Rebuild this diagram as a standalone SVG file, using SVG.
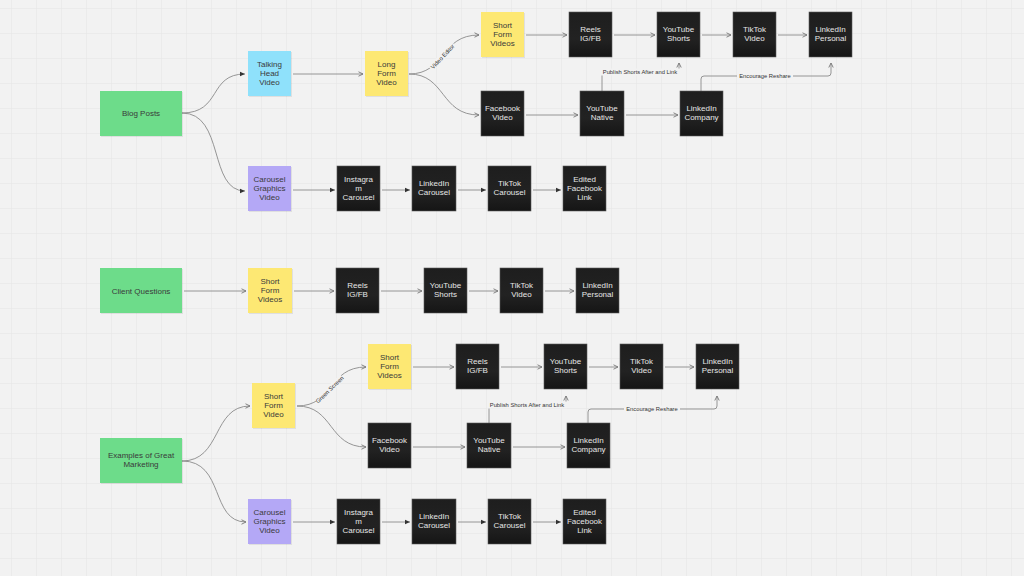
<svg xmlns="http://www.w3.org/2000/svg" width="1024" height="576" viewBox="0 0 1024 576">
<defs>
<pattern id="grid" x="11" y="8" width="25" height="25" patternUnits="userSpaceOnUse">
<path d="M0,0 H25 M0,0 V25" stroke="#e4e4e4" stroke-width="1" fill="none"/>
</pattern>
<linearGradient id="dark" x1="0" y1="0" x2="0" y2="1">
<stop offset="0" stop-color="#1e1e1e"/>
<stop offset="0.6" stop-color="#222"/>
<stop offset="1" stop-color="#151515"/>
</linearGradient>
<marker id="open" viewBox="0 0 6 6" refX="5.5" refY="3" markerWidth="6" markerHeight="6" markerUnits="userSpaceOnUse" orient="auto">
<path d="M1,0.8 L5.5,3 L1,5.2" fill="none" stroke="#777" stroke-width="0.9"/>
</marker>
<marker id="fill" viewBox="0 0 6 6" refX="5.5" refY="3" markerWidth="6" markerHeight="6" markerUnits="userSpaceOnUse" orient="auto">
<path d="M0.5,0.8 L5.5,3 L0.5,5.2 Z" fill="#333"/>
</marker>
</defs>
<style>
.sh{fill:#000;opacity:0.08}
.g{fill:#6ddc8a}
.bl{fill:#8fe1fb}
.y{fill:#fde873}
.p{fill:#b4a8f6}
.k{fill:url(#dark);stroke:#5a5a5a;stroke-width:0.6}
text{font-family:"Liberation Sans",Arial,sans-serif;font-size:8px;text-anchor:middle}
.tl{fill:#3a3a3a}
.tw{fill:#e6e6e6}
.c{fill:none;stroke:#8a8a8a;stroke-width:0.9}
.lbl{font-size:5.8px;fill:#333}
</style>
<rect width="1024" height="576" fill="#f2f2f2"/>
<rect width="1024" height="576" fill="url(#grid)"/>

<g id="connectors">
<path class="c" d="M182,113 C222,113 208,74 245,74" marker-end="url(#fill)"/>
<path class="c" d="M182,113 C225,113 208,191 245,191" marker-end="url(#fill)"/>
<path class="c" d="M293,74 H363" marker-end="url(#open)"/>
<path class="c" d="M409,74 C446,74 440,35 479,35" marker-end="url(#open)"/>
<path class="c" d="M409,74 C446,74 440,115 479,115" marker-end="url(#open)"/>
<path class="c" d="M526,35 H567" marker-end="url(#open)"/>
<path class="c" d="M614,35 H655" marker-end="url(#open)"/>
<path class="c" d="M702,35 H731" marker-end="url(#open)"/>
<path class="c" d="M778,35 H807" marker-end="url(#open)"/>
<path class="c" d="M526,115 H578" marker-end="url(#open)"/>
<path class="c" d="M626,115 H678" marker-end="url(#open)"/>
<path class="c" d="M293,190 H335" marker-end="url(#fill)"/>
<path class="c" d="M382,190 H410" marker-end="url(#fill)"/>
<path class="c" d="M458,190 H486" marker-end="url(#fill)"/>
<path class="c" d="M533,190 H561" marker-end="url(#fill)"/>
<path class="c" d="M602,91 V72 H679 V63" marker-end="url(#open)"/>
<path class="c" d="M701,91 V79 Q701,76 704,76 H828 Q831,76 831,73 V63" marker-end="url(#open)"/>
<path class="c" d="M184,291 H246" marker-end="url(#open)"/>
<path class="c" d="M294,291 H334" marker-end="url(#open)"/>
<path class="c" d="M381,291 H422" marker-end="url(#open)"/>
<path class="c" d="M469,291 H498" marker-end="url(#open)"/>
<path class="c" d="M545,291 H574" marker-end="url(#open)"/>
<path class="c" d="M182,461 C222,461 212,406 250,406" marker-end="url(#open)"/>
<path class="c" d="M182,461 C225,461 210,522 246,522" marker-end="url(#open)"/>
<path class="c" d="M297,406 C334,406 328,367 366,367" marker-end="url(#open)"/>
<path class="c" d="M297,406 C334,406 328,447 366,447" marker-end="url(#open)"/>
<path class="c" d="M413,367 H454" marker-end="url(#open)"/>
<path class="c" d="M501,367 H542" marker-end="url(#open)"/>
<path class="c" d="M589,367 H618" marker-end="url(#open)"/>
<path class="c" d="M665,367 H694" marker-end="url(#open)"/>
<path class="c" d="M413,447 H465" marker-end="url(#open)"/>
<path class="c" d="M513,447 H565" marker-end="url(#open)"/>
<path class="c" d="M293,522 H335" marker-end="url(#fill)"/>
<path class="c" d="M382,522 H410" marker-end="url(#fill)"/>
<path class="c" d="M458,522 H486" marker-end="url(#fill)"/>
<path class="c" d="M533,522 H561" marker-end="url(#fill)"/>
<path class="c" d="M489,423 V405 H566 V396" marker-end="url(#open)"/>
<path class="c" d="M588,423 V412 Q588,409 591,409 H714 Q717,409 717,406 V396" marker-end="url(#open)"/>
<rect x="600" y="68.5" width="80" height="7" fill="#f2f2f2"/>
<text class="lbl" x="640" y="74">Publish Shorts After and Link</text>
<rect x="737" y="72.5" width="56" height="7" fill="#f2f2f2"/>
<text class="lbl" x="765" y="78">Encourage Reshare</text>
<rect x="487" y="401.5" width="80" height="7" fill="#f2f2f2"/>
<text class="lbl" x="527" y="407">Publish Shorts After and Link</text>
<rect x="624" y="405.5" width="56" height="7" fill="#f2f2f2"/>
<text class="lbl" x="652" y="411">Encourage Reshare</text>
<g transform="translate(443,57) rotate(-47)">
<rect x="-17" y="-4" width="34" height="6.5" fill="#f2f2f2"/>
<text class="lbl" x="0" y="1.5">Video Editor</text>
</g>
<g transform="translate(330,390) rotate(-44)">
<rect x="-18" y="-4" width="36" height="6.5" fill="#f2f2f2"/>
<text class="lbl" x="0" y="1.5">Green Screen</text>
</g>
</g>

<g id="blog-posts"><rect class="sh" x="101" y="92" width="82" height="45"/><rect class="g" x="100" y="91" width="82" height="45"/><text class="tl" x="141" y="116">Blog Posts</text></g>
<g id="talking-head"><rect class="sh" x="249" y="52" width="43" height="45"/><rect class="bl" x="248" y="51" width="43" height="45"/><text class="tl" y="66.8"><tspan x="269.5">Talking</tspan><tspan x="269.5" dy="9">Head</tspan><tspan x="269.5" dy="9">Video</tspan></text></g>
<g id="long-form"><rect class="sh" x="366" y="52" width="43" height="45"/><rect class="y" x="365" y="51" width="43" height="45"/><text class="tl" y="66.8"><tspan x="386.5">Long</tspan><tspan x="386.5" dy="9">Form</tspan><tspan x="386.5" dy="9">Video</tspan></text></g>
<g id="short-form-videos-1"><rect class="sh" x="482" y="13" width="43" height="45"/><rect class="y" x="481" y="12" width="43" height="45"/><text class="tl" y="27.8"><tspan x="502.5">Short</tspan><tspan x="502.5" dy="9">Form</tspan><tspan x="502.5" dy="9">Videos</tspan></text></g>
<g id="reels-1"><rect class="k" x="569" y="12" width="43" height="45"/><text class="tw" y="32.3"><tspan x="590.5">Reels</tspan><tspan x="590.5" dy="9">IG/FB</tspan></text></g>
<g id="yt-shorts-1"><rect class="k" x="657" y="12" width="43" height="45"/><text class="tw" y="32.3"><tspan x="678.5">YouTube</tspan><tspan x="678.5" dy="9">Shorts</tspan></text></g>
<g id="tiktok-video-1"><rect class="k" x="733" y="12" width="43" height="45"/><text class="tw" y="32.3"><tspan x="754.5">TikTok</tspan><tspan x="754.5" dy="9">Video</tspan></text></g>
<g id="li-personal-1"><rect class="k" x="809" y="12" width="43" height="45"/><text class="tw" y="32.3"><tspan x="830.5">LinkedIn</tspan><tspan x="830.5" dy="9">Personal</tspan></text></g>
<g id="facebook-video-1"><rect class="k" x="481" y="91" width="43" height="45"/><text class="tw" y="111.3"><tspan x="502.5">Facebook</tspan><tspan x="502.5" dy="9">Video</tspan></text></g>
<g id="yt-native-1"><rect class="k" x="580" y="91" width="44" height="45"/><text class="tw" y="111.3"><tspan x="602">YouTube</tspan><tspan x="602" dy="9">Native</tspan></text></g>
<g id="li-company-1"><rect class="k" x="680" y="91" width="43" height="45"/><text class="tw" y="111.3"><tspan x="701.5">LinkedIn</tspan><tspan x="701.5" dy="9">Company</tspan></text></g>
<g id="carousel-1"><rect class="sh" x="249" y="167" width="43" height="45"/><rect class="p" x="248" y="166" width="43" height="45"/><text class="tl" y="181.8"><tspan x="269.5">Carousel</tspan><tspan x="269.5" dy="9">Graphics</tspan><tspan x="269.5" dy="9">Video</tspan></text></g>
<g id="ig-carousel-1"><rect class="k" x="337" y="166" width="43" height="45"/><text class="tw" y="181.8"><tspan x="358.5">Instagra</tspan><tspan x="358.5" dy="9">m</tspan><tspan x="358.5" dy="9">Carousel</tspan></text></g>
<g id="li-carousel-1"><rect class="k" x="412" y="166" width="44" height="45"/><text class="tw" y="186.3"><tspan x="434">LinkedIn</tspan><tspan x="434" dy="9">Carousel</tspan></text></g>
<g id="tt-carousel-1"><rect class="k" x="488" y="166" width="43" height="45"/><text class="tw" y="186.3"><tspan x="509.5">TikTok</tspan><tspan x="509.5" dy="9">Carousel</tspan></text></g>
<g id="edited-fb-1"><rect class="k" x="563" y="166" width="43" height="45"/><text class="tw" y="181.8"><tspan x="584.5">Edited</tspan><tspan x="584.5" dy="9">Facebook</tspan><tspan x="584.5" dy="9">Link</tspan></text></g>

<g id="client-questions"><rect class="sh" x="101" y="269" width="82" height="45"/><rect class="g" x="100" y="268" width="82" height="45"/><text class="tl" x="141" y="293.5">Client Questions</text></g>
<g id="short-form-videos-2"><rect class="sh" x="249" y="269" width="44" height="45"/><rect class="y" x="248" y="268" width="44" height="45"/><text class="tl" y="283.8"><tspan x="270">Short</tspan><tspan x="270" dy="9">Form</tspan><tspan x="270" dy="9">Videos</tspan></text></g>
<g id="reels-2"><rect class="k" x="336" y="268" width="43" height="45"/><text class="tw" y="288.3"><tspan x="357.5">Reels</tspan><tspan x="357.5" dy="9">IG/FB</tspan></text></g>
<g id="yt-shorts-2"><rect class="k" x="424" y="268" width="43" height="45"/><text class="tw" y="288.3"><tspan x="445.5">YouTube</tspan><tspan x="445.5" dy="9">Shorts</tspan></text></g>
<g id="tiktok-video-2"><rect class="k" x="500" y="268" width="43" height="45"/><text class="tw" y="288.3"><tspan x="521.5">TikTok</tspan><tspan x="521.5" dy="9">Video</tspan></text></g>
<g id="li-personal-2"><rect class="k" x="576" y="268" width="43" height="45"/><text class="tw" y="288.3"><tspan x="597.5">LinkedIn</tspan><tspan x="597.5" dy="9">Personal</tspan></text></g>

<g id="examples"><rect class="sh" x="101" y="439" width="82" height="45"/><rect class="g" x="100" y="438" width="82" height="45"/><text class="tl" y="458.3"><tspan x="141">Examples of Great</tspan><tspan x="141" dy="9">Marketing</tspan></text></g>
<g id="short-form-video-3"><rect class="sh" x="253" y="384" width="43" height="45"/><rect class="y" x="252" y="383" width="43" height="45"/><text class="tl" y="398.8"><tspan x="273.5">Short</tspan><tspan x="273.5" dy="9">Form</tspan><tspan x="273.5" dy="9">Video</tspan></text></g>
<g id="short-form-videos-3"><rect class="sh" x="369" y="345" width="43" height="45"/><rect class="y" x="368" y="344" width="43" height="45"/><text class="tl" y="359.8"><tspan x="389.5">Short</tspan><tspan x="389.5" dy="9">Form</tspan><tspan x="389.5" dy="9">Videos</tspan></text></g>
<g id="reels-3"><rect class="k" x="456" y="344" width="43" height="45"/><text class="tw" y="364.3"><tspan x="477.5">Reels</tspan><tspan x="477.5" dy="9">IG/FB</tspan></text></g>
<g id="yt-shorts-3"><rect class="k" x="544" y="344" width="43" height="45"/><text class="tw" y="364.3"><tspan x="565.5">YouTube</tspan><tspan x="565.5" dy="9">Shorts</tspan></text></g>
<g id="tiktok-video-3"><rect class="k" x="620" y="344" width="43" height="45"/><text class="tw" y="364.3"><tspan x="641.5">TikTok</tspan><tspan x="641.5" dy="9">Video</tspan></text></g>
<g id="li-personal-3"><rect class="k" x="696" y="344" width="43" height="45"/><text class="tw" y="364.3"><tspan x="717.5">LinkedIn</tspan><tspan x="717.5" dy="9">Personal</tspan></text></g>
<g id="facebook-video-3"><rect class="k" x="368" y="423" width="43" height="45"/><text class="tw" y="443.3"><tspan x="389.5">Facebook</tspan><tspan x="389.5" dy="9">Video</tspan></text></g>
<g id="yt-native-3"><rect class="k" x="467" y="423" width="44" height="45"/><text class="tw" y="443.3"><tspan x="489">YouTube</tspan><tspan x="489" dy="9">Native</tspan></text></g>
<g id="li-company-3"><rect class="k" x="567" y="423" width="43" height="45"/><text class="tw" y="443.3"><tspan x="588.5">LinkedIn</tspan><tspan x="588.5" dy="9">Company</tspan></text></g>
<g id="carousel-3"><rect class="sh" x="249" y="500" width="43" height="45"/><rect class="p" x="248" y="499" width="43" height="45"/><text class="tl" y="514.8"><tspan x="269.5">Carousel</tspan><tspan x="269.5" dy="9">Graphics</tspan><tspan x="269.5" dy="9">Video</tspan></text></g>
<g id="ig-carousel-3"><rect class="k" x="337" y="499" width="43" height="45"/><text class="tw" y="514.8"><tspan x="358.5">Instagra</tspan><tspan x="358.5" dy="9">m</tspan><tspan x="358.5" dy="9">Carousel</tspan></text></g>
<g id="li-carousel-3"><rect class="k" x="412" y="499" width="44" height="45"/><text class="tw" y="519.3"><tspan x="434">LinkedIn</tspan><tspan x="434" dy="9">Carousel</tspan></text></g>
<g id="tt-carousel-3"><rect class="k" x="488" y="499" width="43" height="45"/><text class="tw" y="519.3"><tspan x="509.5">TikTok</tspan><tspan x="509.5" dy="9">Carousel</tspan></text></g>
<g id="edited-fb-3"><rect class="k" x="563" y="499" width="43" height="45"/><text class="tw" y="514.8"><tspan x="584.5">Edited</tspan><tspan x="584.5" dy="9">Facebook</tspan><tspan x="584.5" dy="9">Link</tspan></text></g>
</svg>
